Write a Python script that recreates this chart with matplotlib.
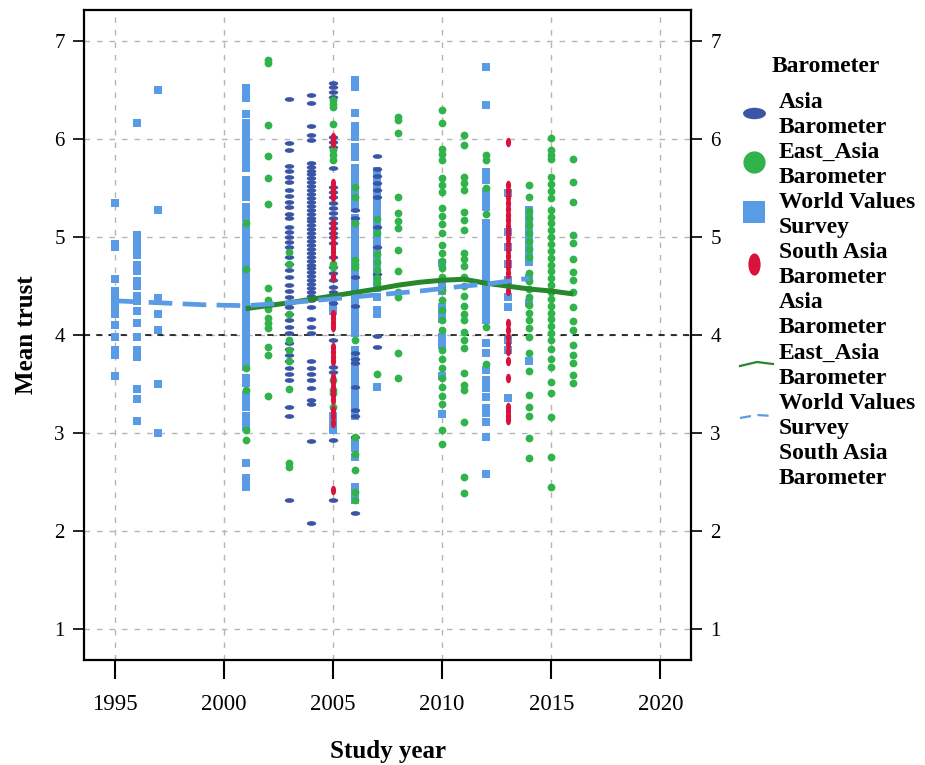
import matplotlib
matplotlib.use("Agg")
import matplotlib.pyplot as plt
from matplotlib.lines import Line2D
from matplotlib.path import Path
import numpy as np

# ---- data (year -> list of mean trust values) ----
wvs = {
    1995: [5.35, 4.93, 4.90, 4.57, 4.45, 4.38, 4.34, 4.30, 4.27, 4.22, 4.10, 3.98, 3.85, 3.80, 3.58],
    1996: [6.17, 5.02, 4.97, 4.90, 4.82, 4.72, 4.65, 4.55, 4.50, 4.40, 4.35, 4.25, 4.12, 3.98,
           3.85, 3.82, 3.78, 3.45, 3.35, 3.12],
    1997: [6.50, 5.28, 4.38, 4.22, 4.05, 3.50, 3.00],
    2001: [6.52, 6.48, 6.45, 6.42, 6.26, 6.17, 6.12, 6.07, 6.02, 5.97, 5.92, 5.86, 5.81, 5.76, 5.71,
           5.58, 5.53, 5.47, 5.41, 5.31, 5.26, 5.20, 5.10, 5.06, 5.02, 4.98, 4.94, 4.90, 4.86, 4.82,
           4.78, 4.74, 4.70, 4.66, 4.62, 4.58, 4.54, 4.50, 4.46, 4.42, 4.38, 4.33, 4.29, 4.25, 4.21,
           4.17, 4.13, 4.09, 4.05, 4.01, 3.96, 3.92, 3.88, 3.82, 3.76, 3.70, 3.67, 3.56, 3.51, 3.39,
           3.35, 3.31, 3.27, 3.17, 3.12, 3.06, 2.69, 2.54, 2.50, 2.45],
    2005: [4.35, 4.30, 4.25, 3.17, 3.10, 3.03],
    2006: [6.60, 6.56, 6.53, 6.27, 6.14, 6.10, 6.06, 6.02, 5.92, 5.87, 5.82, 5.71, 5.66, 5.61, 5.55,
           5.50, 5.45, 5.40, 5.35, 5.30, 5.20, 5.15, 5.10, 5.05, 5.00, 4.94, 4.90, 4.86, 4.82, 4.78,
           4.74, 4.70, 4.66, 4.62, 4.59, 4.53, 4.49, 4.45, 4.41, 4.37, 4.33, 4.28, 4.22, 4.16, 4.10,
           4.05, 4.02, 3.85, 3.80, 3.75, 3.70, 3.65, 3.60, 3.55, 3.50, 3.45, 3.40, 3.35, 3.30, 3.25,
           3.20, 3.17, 2.93, 2.85, 2.76, 2.45, 2.40, 2.32],
    2007: [5.68, 5.60, 5.52, 5.44, 5.36, 5.28, 5.20, 5.12, 5.04, 4.96, 4.88, 4.80, 4.72, 4.64,
           4.56, 4.48, 4.39, 4.26, 4.22, 3.47],
    2010: [4.74, 4.52, 4.45, 4.29, 4.20, 4.16, 3.98, 3.90, 3.58, 3.19],
    2012: [6.74, 6.35, 5.67, 5.58, 5.46, 5.38, 5.31, 5.14, 5.10, 5.06, 5.02, 4.98, 4.94, 4.90,
           4.86, 4.82, 4.78, 4.74, 4.70, 4.66, 4.62, 4.58, 4.54, 4.50, 4.46, 4.43, 4.36, 4.29,
           4.22, 4.15, 3.92, 3.82, 3.64, 3.54, 3.46, 3.37, 3.26, 3.20, 3.11, 2.96, 2.58],
    2013: [5.45, 5.05, 4.90, 4.73, 4.56, 4.39, 4.29, 3.95, 3.85, 3.36],
    2014: [5.28, 5.22, 5.15, 5.08, 5.02, 4.95, 4.88, 4.80, 4.75, 4.58, 4.33, 3.74],
}

asia = {
    2003: [6.41, 5.96, 5.89, 5.73, 5.68, 5.61, 5.56, 5.48, 5.42, 5.36, 5.31, 5.24, 5.20, 5.10,
           5.05, 5.00, 4.95, 4.90, 4.80, 4.73, 4.66, 4.59, 4.51, 4.45, 4.39, 4.33, 4.29, 4.22,
           4.15, 4.08, 4.02, 3.92, 3.86, 3.80, 3.74, 3.66, 3.60, 3.54, 3.27, 3.17, 2.32],
    2004: [6.45, 6.37, 6.14, 6.04, 5.99, 5.76, 5.72, 5.68, 5.64, 5.60, 5.56, 5.52, 5.48, 5.44,
           5.40, 5.36, 5.32, 5.28, 5.24, 5.20, 5.16, 5.12, 5.08, 5.04, 5.00, 4.96, 4.92, 4.88,
           4.84, 4.80, 4.76, 4.72, 4.68, 4.64, 4.60, 4.56, 4.52, 4.48, 4.44, 4.40, 4.36, 4.29,
           4.16, 4.08, 4.02, 3.74, 3.66, 3.60, 3.54, 3.46, 3.34, 3.30, 2.92, 2.08],
    2005: [6.57, 6.53, 6.48, 6.43, 6.02, 5.97, 5.92, 5.71, 5.51, 5.46, 5.41, 5.35, 5.30, 5.25,
           5.20, 5.14, 5.09, 5.04, 5.00, 4.94, 4.80, 4.69, 4.63, 4.56, 4.49, 4.44, 4.38, 4.33,
           3.95, 3.67, 3.62, 2.93, 2.32],
    2006: [5.28, 5.20, 4.59, 4.30, 3.82, 3.76, 3.71, 3.47, 3.23, 3.17, 2.96, 2.18],
    2007: [5.83, 5.70, 5.62, 5.55, 5.48, 5.41, 5.10, 4.90, 4.62, 3.99, 3.88],
}

east_asia = {
    2001: [5.14, 4.67, 3.66, 3.44, 3.03, 2.93],
    2002: [6.81, 6.78, 6.15, 5.83, 5.60, 5.34, 4.48, 4.36, 4.27, 4.17, 4.12, 4.07, 3.88, 3.80, 3.38],
    2003: [4.85, 4.73, 4.22, 3.95, 3.85, 3.74, 3.45, 2.69, 2.65],
    2005: [6.40, 6.36, 6.33, 6.16, 5.89, 5.84, 5.79, 4.73, 4.69, 3.54, 3.44, 3.41, 3.27],
    2006: [5.51, 5.41, 5.14, 4.77, 4.73, 4.69, 3.95, 2.96, 2.79, 2.62, 2.40, 2.32],
    2007: [5.19, 5.04, 4.83, 4.75, 4.66, 4.58, 4.53, 3.60],
    2008: [6.23, 6.20, 6.06, 5.41, 5.25, 5.16, 5.09, 4.87, 4.65, 4.44, 4.39, 3.82, 3.56],
    2010: [6.30, 6.17, 5.90, 5.85, 5.79, 5.60, 5.53, 5.46, 5.30, 5.22, 5.13, 5.04, 4.92, 4.84,
           4.76, 4.68, 4.59, 4.46, 4.36, 4.26, 4.15, 4.05, 3.85, 3.76, 3.66, 3.56, 3.47, 3.38,
           3.30, 3.03, 2.89],
    2011: [6.04, 5.94, 5.61, 5.55, 5.48, 5.26, 5.17, 5.07, 4.84, 4.78, 4.71, 4.59, 4.50, 4.40,
           4.30, 4.22, 4.15, 4.03, 3.95, 3.87, 3.61, 3.49, 3.44, 3.11, 2.55, 2.39],
    2012: [5.84, 5.79, 5.50, 5.24, 4.08, 3.70],
    2014: [5.53, 5.41, 5.27, 5.20, 5.12, 5.04, 4.96, 4.88, 4.80, 4.63, 4.55, 4.47, 4.39, 4.31,
           4.23, 4.15, 4.07, 3.98, 3.82, 3.63, 3.39, 3.27, 3.17, 2.95, 2.74],
    2015: [6.01, 5.89, 5.84, 5.80, 5.61, 5.54, 5.47, 5.40, 5.28, 5.21, 5.14, 5.07, 5.00, 4.93,
           4.86, 4.79, 4.72, 4.65, 4.58, 4.51, 4.44, 4.37, 4.30, 4.23, 4.16, 4.09, 4.02, 3.95,
           3.86, 3.76, 3.67, 3.52, 3.41, 3.16, 2.76, 2.45],
    2016: [5.80, 5.56, 5.36, 5.02, 4.94, 4.78, 4.64, 4.56, 4.44, 4.29, 4.14, 4.05, 3.90, 3.80,
           3.71, 3.59, 3.51],
}

south_asia = {
    2005: [6.02, 5.99, 5.96, 5.55, 5.50, 5.45, 5.41, 5.14, 5.10, 5.05, 5.00, 4.94, 4.89, 4.85,
           4.80, 4.59, 4.22, 4.17, 4.12, 4.08, 3.88, 3.83, 3.78, 3.74, 3.57, 3.52, 3.47, 3.44,
           3.39, 3.34, 3.23, 3.17, 3.10, 2.42],
    2013: [5.97, 5.53, 5.47, 5.41, 5.35, 5.29, 5.23, 5.17, 5.11, 5.05, 4.99, 4.93, 4.87, 4.81,
           4.75, 4.69, 4.63, 4.57, 4.51, 4.45, 4.12, 4.05, 3.98, 3.91, 3.84, 3.74, 3.56, 3.27,
           3.22, 3.17, 3.13],
}

# loess fit lines
fit_years_ea = [2001, 2003, 2005, 2007, 2008, 2009, 2010, 2011, 2012, 2013, 2014, 2015, 2016]
fit_ea = [4.27, 4.33, 4.40, 4.47, 4.51, 4.54, 4.56, 4.57, 4.53, 4.50, 4.47, 4.45, 4.42]
fit_years_wvs = [1995, 1997, 1999, 2001, 2003, 2005, 2007, 2009, 2011, 2012, 2013, 2014]
fit_wvs = [4.35, 4.33, 4.31, 4.30, 4.33, 4.37, 4.41, 4.45, 4.50, 4.52, 4.55, 4.58]

legend_lines = ["Asia", "Barometer", "East_Asia", "Barometer", "World Values", "Survey",
                "South Asia", "Barometer", "Asia", "Barometer", "East_Asia", "Barometer",
                "World Values", "Survey", "South Asia", "Barometer"]

c_asia = "#3b55a6"
c_ea = "#2fb34a"
c_wvs = "#5a9be6"
c_sa = "#d9123c"
c_fit = "#26882a"

circ = Path.unit_circle()
ell_h = Path(circ.vertices * np.array([1.0, 0.5]), circ.codes)
ell_v = Path(circ.vertices * np.array([0.55, 1.0]), circ.codes)

serif = "Liberation Serif"
plt.rcParams["font.family"] = serif


def flat(d):
    xs, ys = [], []
    for yr, vals in d.items():
        xs += [yr] * len(vals)
        ys += vals
    return xs, ys


W, H = 925, 765
fig = plt.figure(figsize=(9.25, 7.65), dpi=100)
ax = fig.add_axes([0.091, 0.137, 0.656, 0.850])

ax.grid(True, color="#b5b5b5", linestyle=(0, (4, 5)), linewidth=1.0)
ax.set_axisbelow(True)
ax.axhline(4, color="black", linestyle=(0, (4, 4)), linewidth=1.1, zorder=1)

x, y = flat(wvs)
ax.plot(x, y, "s", color=c_wvs, markersize=5.6, markeredgewidth=0, zorder=2)
x, y = flat(asia)
ax.plot(x, y, marker=ell_h, linestyle="none", color=c_asia, markersize=6.8, markeredgewidth=0, zorder=3)
x, y = flat(east_asia)
ax.plot(x, y, "o", color=c_ea, markersize=5.6, markeredgewidth=0, zorder=4)
x, y = flat(south_asia)
ax.plot(x, y, marker=ell_v, linestyle="none", color=c_sa, markersize=6.8, markeredgewidth=0, zorder=5)

ax.plot(fit_years_ea, fit_ea, color=c_fit, linewidth=3.6, zorder=6, solid_capstyle="butt")
ax.plot(fit_years_wvs, fit_wvs, color=c_wvs, linewidth=3.4, linestyle=(0, (5, 2.2)), zorder=6)

ax.set_xlim(1993.6, 2021.4)
ax.set_ylim(0.68, 7.32)
ax.set_xticks([1995, 2000, 2005, 2010, 2015, 2020])
ax.set_yticks([1, 2, 3, 4, 5, 6, 7])
ax.tick_params(axis="x", direction="out", length=14, width=1.5, labelsize=16.5, pad=10)
ax.tick_params(axis="y", direction="out", length=8, width=1.2, labelsize=15,
               right=True, labelright=True, pad=6)
for s in ax.spines.values():
    s.set_linewidth(1.6)

ax.set_xlabel("Study year", fontsize=18, fontweight="bold", labelpad=18)
ax.set_ylabel("Mean trust", fontsize=18, fontweight="bold", labelpad=12)

# ---- legend drawn by hand to match the SPSS layout ----
fig.text(826 / W, 1 - 66 / H, "Barometer", ha="center", va="center",
         fontsize=17, fontweight="bold")
for i, line in enumerate(legend_lines):
    fig.text(779 / W, 1 - (102 + 25.1 * i) / H, line, ha="left", va="center",
             fontsize=17, fontweight="bold")

hx = 754 / W
fig.add_artist(Line2D([hx], [1 - 113 / H], marker=ell_h, color=c_asia, markersize=16.5,
                      markeredgewidth=0, linestyle="none", transform=fig.transFigure))
fig.add_artist(Line2D([hx], [1 - 162 / H], marker="o", color=c_ea, markersize=16,
                      markeredgewidth=0, linestyle="none", transform=fig.transFigure))
fig.add_artist(Line2D([hx], [1 - 212 / H], marker="s", color=c_wvs, markersize=15.5,
                      markeredgewidth=0, linestyle="none", transform=fig.transFigure))
fig.add_artist(Line2D([hx], [1 - 264 / H], marker=ell_v, color=c_sa, markersize=16,
                      markeredgewidth=0, linestyle="none", transform=fig.transFigure))
fig.add_artist(Line2D([740 / W, 757 / W, 773 / W], [1 - 366 / H, 1 - 362 / H, 1 - 364 / H],
                      color=c_fit, linewidth=1.6, transform=fig.transFigure))
fig.add_artist(Line2D([740 / W, 757 / W, 773 / W], [1 - 418 / H, 1 - 415 / H, 1 - 416 / H],
                      color=c_wvs, linewidth=1.6, linestyle=(0, (5, 3)), transform=fig.transFigure))

fig.savefig("out.png", dpi=100)
